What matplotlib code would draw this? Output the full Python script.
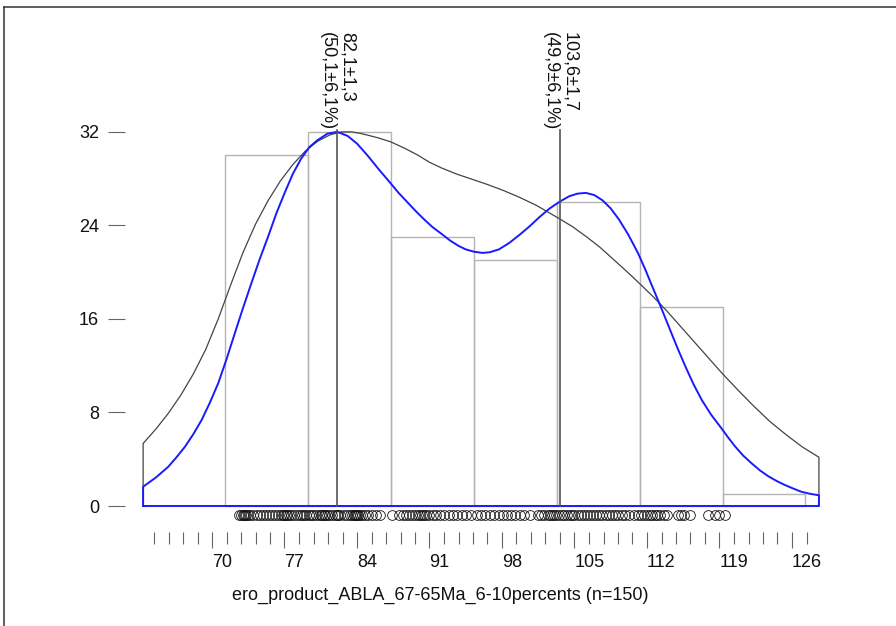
import numpy as np
import matplotlib
matplotlib.use("Agg")
import matplotlib.pyplot as plt
from matplotlib.lines import Line2D

plt.rcParams['font.family'] = ['Liberation Sans', 'DejaVu Sans']

# histogram (bin width 8)
bin_left = [71.3, 79.3, 87.3, 95.3, 103.3, 111.3, 119.3]
bin_counts = [30, 32, 23, 21, 26, 17, 1]
bin_width = 8.0

# KDE with wide bandwidth (black)
kde_wide_x = [63.35, 64.6, 65.8, 67.0, 68.2, 69.4, 70.6, 71.8, 73.0, 74.2,
              75.4, 76.6, 77.8, 79.0, 80.2, 81.4, 82.5, 83.5, 84.45, 86.0,
              87.25, 88.6, 89.9, 91.0, 92.2, 93.6, 95.1, 96.6, 98.1, 99.7,
              101.35, 103.3, 104.8, 106.2, 107.5, 108.75, 110.0, 111.2, 112.6, 113.9,
              115.2, 116.5, 117.9, 119.2, 120.8, 122.3, 123.9, 125.5, 127.0, 128.6]
kde_wide_y = [5.35, 6.6, 7.95, 9.5, 11.3, 13.4, 16.0, 18.9, 21.7, 24.1,
              26.1, 27.8, 29.2, 30.35, 31.2, 31.75, 32.0, 32.0, 31.85, 31.5,
              31.15, 30.6, 30.0, 29.4, 28.9, 28.4, 27.95, 27.5, 27.0, 26.4,
              25.7, 24.7, 23.9, 23.0, 22.1, 21.1, 20.1, 19.1, 17.9, 16.7,
              15.4, 14.1, 12.7, 11.4, 9.9, 8.55, 7.2, 6.05, 5.05, 4.17]

# KDE with narrow bandwidth (blue)
kde_x = [63.35, 64.6, 65.78, 66.6, 67.39, 68.2, 69.0, 69.8, 70.6, 71.4,
         72.2, 73.0, 73.8, 74.6, 75.4, 76.2, 77.0, 77.8, 78.6, 79.4,
         80.2, 81.15, 82.1, 83.1, 84.0, 85.0, 86.1, 87.25, 88.0, 88.9,
         89.7, 90.5, 91.3, 92.2, 93.0, 93.8, 94.5, 95.3, 96.1, 96.8,
         97.7, 98.7, 99.7, 100.7, 101.6, 102.6, 103.6, 104.5, 105.3, 106.1,
         106.9, 107.7, 108.5, 109.3, 110.2, 111.15, 111.8, 112.5, 113.3, 114.1,
         114.9, 115.7, 116.5, 117.3, 118.2, 119.1, 119.8, 120.5, 121.3, 122.1,
         122.9, 123.7, 124.5, 125.3, 126.1, 126.9, 127.7, 128.6]
kde_y = [1.65, 2.45, 3.36, 4.2, 5.07, 6.15, 7.36, 8.85, 10.5, 12.55,
         14.77, 16.95, 19.05, 21.1, 23.0, 25.0, 26.75, 28.4, 29.7, 30.7,
         31.3, 31.85, 32.0, 31.65, 31.0, 30.0, 28.8, 27.6, 26.8, 25.95,
         25.2, 24.5, 23.85, 23.25, 22.7, 22.25, 21.95, 21.75, 21.65, 21.7,
         21.95, 22.5, 23.2, 23.95, 24.7, 25.45, 26.05, 26.5, 26.72, 26.78,
         26.6, 26.15, 25.45, 24.5, 23.2, 21.6, 20.3, 18.8, 17.1, 15.35,
         13.6, 11.95, 10.4, 9.05, 7.8, 6.75, 5.9, 5.1, 4.3, 3.65,
         3.05, 2.55, 2.15, 1.8, 1.5, 1.22, 1.05, 0.92]

# peaks
peak_x = [82.1, 103.6]
peak_labels = ["82,1\u00b11,3\n(50,1\u00b16,1%)", "103,6\u00b11,7\n(49,9\u00b16,1%)"]

# individual measurements (rug)
ages = [72.6, 72.8, 73.0, 73.1, 73.2, 73.3, 73.5, 73.7, 74.0, 74.3,
        74.6, 74.9, 75.2, 75.5, 75.8, 76.1, 76.4, 76.7, 76.9, 77.0,
        77.1, 77.2, 77.4, 77.6, 77.9, 78.2, 78.5, 78.7, 78.9, 79.1,
        79.4, 79.6, 79.8, 80.0, 80.3, 80.5, 80.6, 80.8, 80.9, 81.1,
        81.3, 81.6, 81.9, 82.1, 82.2, 82.4, 82.7, 83.0, 83.3, 83.5,
        83.7, 83.8, 83.9, 84.0, 84.1, 84.3, 84.5, 84.8, 85.1, 85.4,
        85.8, 86.2,
        87.4, 88.1, 88.4, 88.7, 89.0, 89.3, 89.6, 89.9, 90.1, 90.3,
        90.5, 90.7, 91.0, 91.3, 91.6, 92.0, 92.4, 92.9, 93.3, 93.7,
        94.1, 94.5, 95.0,
        95.6, 96.0, 96.4, 96.8, 97.2, 97.7, 98.1, 98.5, 98.9, 99.3,
        99.7, 100.1, 100.7, 101.5, 101.8, 102.1, 102.4, 102.6, 102.8, 103.0,
        103.2,
        103.5, 103.8, 104.0, 104.3, 104.6, 104.8, 105.0, 105.3, 105.6, 105.9,
        106.2, 106.5, 106.8, 107.1, 107.4, 107.7, 108.0, 108.3, 108.6, 108.9,
        109.2, 109.6, 109.9, 110.3, 110.7, 111.1,
        111.4, 111.7, 112.0, 112.3, 112.5, 112.8, 113.0, 113.3, 113.6, 113.9,
        115.0, 115.3, 115.6, 116.2, 117.9, 118.6, 119.0,
        119.5]

xticks_major = [70, 77, 84, 91, 98, 105, 112, 119, 126]
xticks_minor = [64.4 + 1.4 * i for i in range(46)]
yticks = [0, 8, 16, 24, 32]
xlabel = "ero_product_ABLA_67-65Ma_6-10percents (n=150)"

fig = plt.figure(figsize=(8.96, 6.26), dpi=100)
W, H = 896.0, 626.0
ax = fig.add_axes([125 / W, 1 - 531.7 / H, 725 / W, 511.7 / H])
ax.set_xlim(61.6, 131.6)
ax.set_ylim(-2.198, 41.57)
for s in ax.spines.values():
    s.set_visible(False)

# histogram
ax.bar(bin_left, bin_counts, width=bin_width, align='edge', fill=False,
       edgecolor='#b4b4b4', linewidth=1.0)

# black kde, closed to the baseline
ax.plot([kde_wide_x[0]] + kde_wide_x + [kde_wide_x[-1]],
        [0] + kde_wide_y + [0], color='#444444', lw=0.9)

# blue kde, closed to the baseline
ax.plot([kde_x[0]] + kde_x + [kde_x[-1], kde_x[0]],
        [0] + kde_y + [0, 0], color='#1a1aff', lw=1.4)

# peak markers and labels
for px, lab in zip(peak_x, peak_labels):
    ax.plot([px, px], [0, 32.2], color='#555555', lw=1.2)
    ax.text(px, 40.55, lab, rotation=270, ha='center', va='top', fontsize=13,
            multialignment='left', color='#111111')

# rug
ax.plot(ages, [-0.77] * len(ages), 'o', mfc='none', mec='#111111', ms=7, mew=0.6,
        linestyle='none')

# axes ticks
ax.set_yticks(yticks)
ax.set_xticks(xticks_major)
ax.set_xticks([t for t in xticks_minor if round(t, 1) % 7 != 0], minor=True)
ax.tick_params(axis='y', direction='out', length=12.2, width=0.8, color='#666666',
               pad=6.5, labelsize=13, labelcolor='#111111')
ax.tick_params(axis='x', which='major', direction='out', length=11.7, width=0.8,
               color='#666666', pad=4.5, labelsize=13, labelcolor='#111111')
ax.tick_params(axis='x', which='minor', direction='out', length=8.4, width=0.8,
               color='#666666')
for lbl in ax.get_xticklabels():
    lbl.set_ha('left')

fig.text(440 / W, 1 - 595 / H, xlabel, ha='center', va='center', fontsize=13,
         color='#111111')

# screenshot frame (top and left edges)
fig.add_artist(Line2D([4 / W, 1], [1 - 6.7 / H, 1 - 6.7 / H], transform=fig.transFigure,
                      color='#333333', lw=1.1))
fig.add_artist(Line2D([4.3 / W, 4.3 / W], [0, 1 - 6.7 / H], transform=fig.transFigure,
                      color='#333333', lw=1.1))

fig.savefig("out.png", dpi=100)
